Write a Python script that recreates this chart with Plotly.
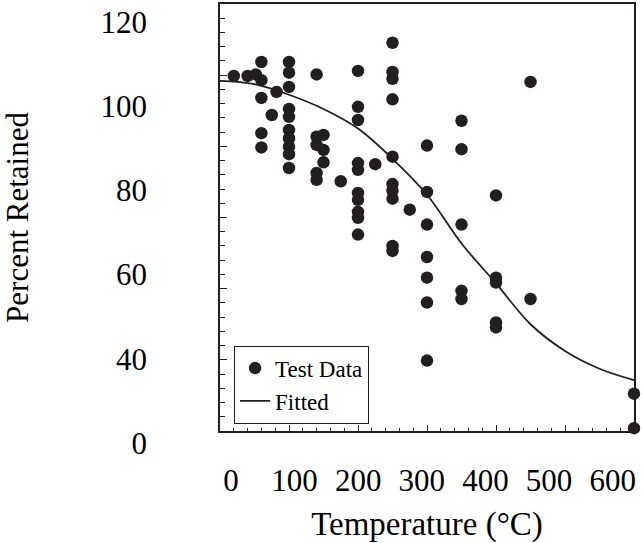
import plotly.graph_objects as go

# ---- data (true axis scale: 0-600 °C, 0-120 %) ----
temp_c = [20, 40, 52, 60, 60, 60, 60, 60, 75, 82,
          100, 100, 100, 100, 100, 100, 100, 100, 100, 100,
          140, 140, 140, 140, 140, 150, 150, 150,
          175,
          200, 200, 200, 200, 200, 200, 200, 200, 200, 200,
          225,
          250, 250, 250, 250, 250, 250, 250, 250, 250, 250,
          275,
          300, 300, 300, 300, 300, 300, 300,
          350, 350, 350, 350, 350,
          400, 400, 400, 400, 400,
          450, 450,
          600, 600]
pct_retained = [99.8, 99.8, 100.2, 103.7, 98.6, 93.6, 83.7, 79.7, 88.8, 95.3,
                103.7, 100.7, 96.7, 90.5, 88.3, 84.6, 82.3, 79.9, 77.8, 73.9,
                100.2, 82.7, 80.4, 72.5, 70.6, 83.2, 79.0, 75.5,
                70.2,
                101.2, 91.1, 87.4, 75.3, 73.4, 66.9, 65.0, 61.6, 59.9, 55.2,
                75.0,
                109.1, 100.9, 99.0, 93.2, 77.1, 69.4, 67.6, 65.3, 52.0, 50.6,
                62.2,
                80.2, 67.2, 58.0, 48.9, 43.1, 36.1, 19.8,
                87.2, 79.2, 58.0, 39.4, 37.1,
                66.2, 43.1, 41.7, 30.5, 29.1,
                98.1, 37.1,
                10.5, 0.8]

fit_temp = [0, 50, 100, 150, 200, 250, 300, 350, 400, 450, 500, 550, 600]
fit_pct = [98.4, 97.5, 94.5, 90.5, 85.0, 76.5, 66.4, 52.7, 41.5, 30.0, 22.5, 17.5, 14.3]

# tick labels as printed in the picture
x_tick_values = [0, 100, 200, 300, 400, 500, 600]
x_tick_labels = ["0", "100", "200", "300", "400", "500", "600"]
y_tick_values = [120, 100, 80, 60, 40, 20]
y_tick_labels = ["120", "100", "80", "60", "40", "0"]

INK = "#231f20"
FONT = "Liberation Serif"

fig = go.Figure()
fig.add_trace(go.Scatter(x=temp_c, y=pct_retained, mode="markers", name="Test Data",
                         marker=dict(size=12.5, color=INK), cliponaxis=False))
fig.add_trace(go.Scatter(x=fit_temp, y=fit_pct, mode="lines", name="Fitted",
                         line=dict(color=INK, width=1.8, shape="spline")))
# carrier trace so the printed tick-label axes are drawn
fig.add_trace(go.Scatter(x=[None], y=[None], xaxis="x2", yaxis="y2", mode="markers",
                         showlegend=False, hoverinfo="skip"))

axis_common = dict(showline=True, linecolor=INK, linewidth=1.5, mirror=True,
                   showgrid=False, zeroline=False, showticklabels=False,
                   ticks="inside", tickcolor=INK)

fig.update_layout(
    width=642, height=543,
    margin=dict(l=220, r=8, t=2, b=112),
    paper_bgcolor="white", plot_bgcolor="white",
    font=dict(family=FONT, color="black", size=31),
    xaxis=dict(range=[0, 600], dtick=100, ticklen=6, tickwidth=1.2,
               minor=dict(ticks="inside", dtick=20, ticklen=3.5, tickcolor=INK, tickwidth=1),
               title=dict(text="Temperature (°C)", standoff=84, font=dict(size=33)),
               **axis_common),
    yaxis=dict(range=[0, 120], dtick=20, ticklen=7, tickwidth=1.2,
               minor=dict(ticks="inside", dtick=4, ticklen=5, tickcolor=INK, tickwidth=1),
               title=dict(text="Percent Retained", standoff=185, font=dict(size=31)),
               **axis_common),
    xaxis2=dict(overlaying="x", anchor="y", side="bottom", range=[-17.3, 633.6],
                tickmode="array", tickvals=x_tick_values, ticktext=x_tick_labels,
                showline=False, showgrid=False, zeroline=False, ticks="",
                showticklabels=True,
                ticklabelstandoff=28, tickfont=dict(size=31)),
    yaxis2=dict(overlaying="y", anchor="x", side="left", range=[19.05, 120.47],
                tickmode="array", tickvals=y_tick_values, ticktext=y_tick_labels,
                showline=False, showgrid=False, zeroline=False, ticks="",
                showticklabels=True,
                ticklabelshift=16, ticklabelstandoff=72, tickfont=dict(size=31)),
    legend=dict(x=0.034, y=0.2, xanchor="left", yanchor="top",
                bordercolor=INK, borderwidth=1, bgcolor="white",
                font=dict(size=23, family=FONT), tracegroupgap=0),
    showlegend=True,
)

fig.write_html("out.html", config={"displayModeBar": False},
               post_script="document.body.style.margin='0';")
